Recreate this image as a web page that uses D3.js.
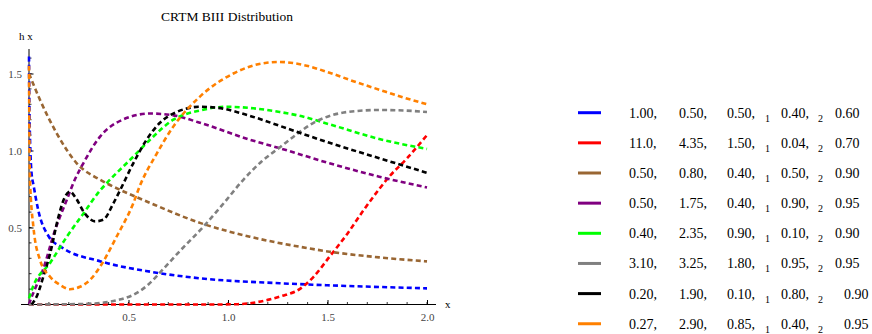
<!DOCTYPE html>
<html><head><meta charset="utf-8">
<script src="https://cdn.jsdelivr.net/npm/d3@7"></script>
<style>
body{margin:0;background:#fff;}
svg{display:block;font-family:"Liberation Serif","Times New Roman",serif;}
</style></head>
<body>
<svg id="chart" width="872" height="334"></svg>
<script>
// ---------- data ----------
const title = "CRTM BIII Distribution";
const yLabel = "h x";
const xLabel = "x";
const xTickLabels = [0.5, 1.0, 1.5, 2.0];
const yTickLabels = [0.5, 1.0, 1.5];

const seriesNames = ["blue","red","brown","purple","green","gray","black","orange"];
const seriesColors = ["#0000ff","#ff0000","#996633","#800080","#00ff00","#808080","#000000","#ff8000"];
const legendParams = [
  ["1.00,","0.50,","0.50,","0.40,","0.60"],
  ["11.0,","4.35,","1.50,","0.04,","0.70"],
  ["0.50,","0.80,","0.40,","0.50,","0.90"],
  ["0.50,","1.75,","0.40,","0.90,","0.95"],
  ["0.40,","2.35,","0.90,","0.10,","0.90"],
  ["3.10,","3.25,","1.80,","0.95,","0.95"],
  ["0.20,","1.90,","0.10,","0.80,","0.90"],
  ["0.27,","2.90,","0.85,","0.40,","0.95"]
];

const blueX  = [0,0.003,0.013,0.022,0.047,0.1,0.16,0.36,0.61,0.86,1.26,1.5,2.0];
const blueY  = [1.61,1.2,0.85,0.78,0.61,0.44,0.375,0.28,0.213,0.17,0.138,0.125,0.105];
const redX   = [0,0.5,0.9,1.05,1.12,1.2,1.27,1.36,1.43,1.51,1.6,1.68,1.76,1.81,1.9,2.0];
const redY   = [0,0,0,0.002,0.01,0.03,0.055,0.1,0.18,0.31,0.46,0.61,0.75,0.83,0.95,1.1];
const brownX = [0,0.055,0.14,0.24,0.357,0.407,0.608,0.859,1.11,1.36,1.51,1.76,2.0];
const brownY = [1.5,1.33,1.11,0.917,0.81,0.776,0.66,0.53,0.44,0.375,0.343,0.306,0.28];
const purpleX= [0,0.005,0.03,0.07,0.13,0.19,0.23,0.273,0.357,0.47,0.608,0.72,0.859,1.11,1.26,1.51,1.76,2.0];
const purpleY= [0,0.02,0.1,0.224,0.48,0.68,0.81,0.917,1.09,1.2,1.24,1.23,1.18,1.07,1.015,0.917,0.83,0.76];
const greenX = [0,0.02,0.106,0.19,0.273,0.357,0.39,0.524,0.608,0.725,0.859,0.993,1.127,1.26,1.36,1.51,1.76,2.0];
const greenY = [0.04,0.115,0.27,0.44,0.59,0.74,0.787,0.96,1.07,1.2,1.26,1.284,1.274,1.25,1.225,1.17,1.075,1.01];
const grayX  = [0,0.25,0.36,0.45,0.52,0.6,0.66,0.76,0.876,0.98,1.077,1.17,1.26,1.35,1.43,1.51,1.6,1.76,1.88,2.0];
const grayY  = [0,0.003,0.01,0.03,0.06,0.13,0.21,0.35,0.505,0.66,0.81,0.93,1.02,1.11,1.18,1.224,1.25,1.263,1.26,1.25];
const blackX = [0.013,0.038,0.072,0.106,0.148,0.181,0.206,0.231,0.281,0.332,0.373,0.424,0.457,0.524,0.591,0.658,0.742,0.859,0.943,1.11,1.26,1.36,1.51,1.76,2.0];
const blackY = [0,0.05,0.18,0.33,0.57,0.70,0.733,0.70,0.59,0.54,0.55,0.657,0.74,0.917,1.07,1.18,1.25,1.284,1.278,1.225,1.16,1.115,1.05,0.95,0.855];
const orangeX= [0,0.002,0.005,0.022,0.055,0.106,0.156,0.206,0.256,0.307,0.357,0.44,0.524,0.557,0.642,0.725,0.859,1.027,1.195,1.26,1.38,1.51,1.63,1.76,1.88,2.0];
const orangeY= [1.55,1.1,0.81,0.505,0.29,0.18,0.127,0.099,0.115,0.16,0.245,0.44,0.657,0.77,0.98,1.155,1.35,1.5,1.57,1.575,1.555,1.505,1.45,1.395,1.345,1.30];

const seriesX = [blueX,redX,brownX,purpleX,greenX,grayX,blackX,orangeX];
const seriesY = [blueY,redY,brownY,purpleY,greenY,grayY,blackY,orangeY];

// ---------- drawing ----------
const svg = d3.select("#chart");
const x = d3.scaleLinear().domain([0,2]).range([29,427]);
const y = d3.scaleLinear().domain([0,1.5]).range([304.5,73.5]);
const tickCol = "#444";

// title
svg.append("text").attr("x",227).attr("y",21).attr("text-anchor","middle")
  .attr("font-size",13.5).attr("fill","#000").text(title);
svg.append("text").attr("x",19).attr("y",40).attr("font-size",11).attr("fill","#000").text(yLabel);
svg.append("text").attr("x",445).attr("y",308).attr("font-size",11).attr("fill","#000").text(xLabel);

// axes lines
svg.append("line").attr("x1",21).attr("x2",436).attr("y1",y(0)).attr("y2",y(0))
  .attr("stroke","#000").attr("stroke-width",1);
svg.append("line").attr("x1",x(0)).attr("x2",x(0)).attr("y1",y(0)+1).attr("y2",49)
  .attr("stroke","#000").attr("stroke-width",1);

// minor ticks
const xMinor = x.ticks(20).filter(v=>v>0);
const yMinor = d3.range(1,17).map(i=>i/10);
svg.append("g").selectAll("line").data(xMinor).join("line")
  .attr("x1",d=>x(d)).attr("x2",d=>x(d)).attr("y1",y(0)).attr("y2",y(0)-2.5)
  .attr("stroke","#000").attr("stroke-width",0.8);
svg.append("g").selectAll("line").data(yMinor).join("line")
  .attr("x1",x(0)).attr("x2",x(0)+2.5).attr("y1",d=>y(d)).attr("y2",d=>y(d))
  .attr("stroke","#000").attr("stroke-width",0.8);

// major ticks via axes
const xAxis = d3.axisBottom(x).tickValues(xTickLabels).tickSize(-4.5).tickPadding(14).tickFormat(d3.format(".1f"));
const gx = svg.append("g").attr("transform",`translate(0,${y(0)})`).call(xAxis);
gx.select(".domain").remove();
gx.selectAll("line").attr("stroke","#000");
gx.selectAll("text").attr("fill",tickCol).attr("font-size",11).attr("font-family","Liberation Serif, serif").attr("dy","0.25em");

const yAxis = d3.axisLeft(y).tickValues(yTickLabels).tickSize(-4.5).tickPadding(7).tickFormat(d3.format(".1f"));
const gy = svg.append("g").attr("transform",`translate(${x(0)},0)`).call(yAxis);
gy.select(".domain").remove();
gy.selectAll("line").attr("stroke","#000");
gy.selectAll("text").attr("fill",tickCol).attr("font-size",11).attr("font-family","Liberation Serif, serif");

// curves
const line = d3.line().x(d=>x(d[0])).y(d=>y(d[1])).curve(d3.curveMonotoneX);
seriesNames.forEach((name,i)=>{
  const pts = seriesX[i].map((v,j)=>[v,seriesY[i][j]]);
  svg.append("path").datum(pts).attr("d",line)
    .attr("fill","none").attr("stroke",seriesColors[i])
    .attr("stroke-width",2.6).attr("stroke-dasharray","5,3.2");
});

// legend
const legY0 = 112.7, legDy = 30.15;
const colX = [629,679,727,781,835];
const lastShift = [0,0,0,0,0,0,9,9];
const leg = svg.append("g").attr("font-size",14).attr("fill","#000");
legendParams.forEach((row,i)=>{
  const cy = legY0 + i*legDy;
  leg.append("line").attr("x1",578).attr("x2",601).attr("y1",cy).attr("y2",cy)
    .attr("stroke",seriesColors[i]).attr("stroke-width",3);
  row.forEach((t,k)=>{
    leg.append("text").attr("x",colX[k] + (k===4?lastShift[i]:0)).attr("y",cy+5).text(t);
  });
  leg.append("text").attr("x",765).attr("y",cy+9).attr("font-size",10).text("1");
  leg.append("text").attr("x",818).attr("y",cy+9).attr("font-size",10).text("2");
});
</script>
</body></html>
